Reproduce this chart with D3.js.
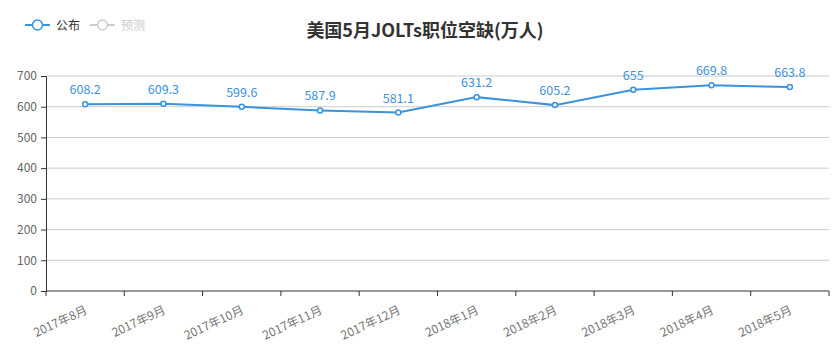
<!DOCTYPE html>
<html>
<head>
<meta charset="utf-8">
<script src="https://cdn.jsdelivr.net/npm/d3@7"></script>
<style>
  body { margin: 0; background: #fff; }
  text { font-family: "Noto Sans CJK SC", "Microsoft YaHei", sans-serif; }
</style>
</head>
<body>
<svg class="chart" width="839" height="362"></svg>
<script>
// data
var months = ["2017年8月", "2017年9月", "2017年10月", "2017年11月", "2017年12月",
  "2018年1月", "2018年2月", "2018年3月", "2018年4月", "2018年5月"];
var published = [608.2, 609.3, 599.6, 587.9, 581.1, 631.2, 605.2, 655, 669.8, 663.8];
var yTicks = [0, 100, 200, 300, 400, 500, 600, 700];
var legendNames = ["公布", "预测"];
var title = "美国5月JOLTs职位空缺(万人)";

var m = {top: 76, right: 10, bottom: 71, left: 46},
  w = 839 - m.left - m.right,
  h = 362 - m.top - m.bottom;
var blue = "#3a93dd";

var svg = d3.select(".chart");
var g = svg.append("g").attr("transform", "translate(" + m.left + "," + m.top + ")");

var x = d3.scaleBand().domain(months).range([0, w]);
var y = d3.scaleLinear().domain([0, 700]).range([h, 0]);

// grid
g.append("g").selectAll("line").data(yTicks.filter(function(d) { return d > 0; }))
  .enter().append("line")
  .attr("x1", 0).attr("x2", w)
  .attr("y1", function(d) { return y(d); }).attr("y2", function(d) { return y(d); })
  .attr("stroke", "#ccc");

// y axis
var ya = g.append("g").call(d3.axisLeft(y).tickValues(yTicks).tickSize(5).tickPadding(4));
ya.select(".domain").attr("stroke", "#333");
ya.selectAll(".tick line").attr("stroke", "#333");
ya.selectAll("text").attr("fill", "#666").style("font-size", "12px");

// x axis, ticks on band edges
var xa = g.append("g").attr("transform", "translate(0," + h + ")");
xa.append("line").attr("x1", 0).attr("x2", w).attr("stroke", "#333");
xa.selectAll(".edge").data(months.concat([null])).enter().append("line")
  .attr("class", "edge")
  .attr("x1", function(d, i) { return i * x.step(); })
  .attr("x2", function(d, i) { return i * x.step(); })
  .attr("y1", 0).attr("y2", 5).attr("stroke", "#333");
xa.selectAll(".lbl").data(months).enter().append("text")
  .attr("class", "lbl")
  .attr("text-anchor", "end")
  .attr("fill", "#777")
  .style("font-size", "12px")
  .attr("transform", function(d) {
    return "translate(" + (x(d) + x.bandwidth() / 2 + 3) + ",22) rotate(-25)";
  })
  .text(function(d) { return d; });

// line
var line = d3.line()
  .x(function(d, i) { return x(months[i]) + x.bandwidth() / 2; })
  .y(function(d) { return y(d); });
g.append("path").datum(published)
  .attr("d", line).attr("fill", "none")
  .attr("stroke", blue).attr("stroke-width", 2);

g.selectAll(".pt").data(published).enter().append("circle")
  .attr("class", "pt")
  .attr("cx", function(d, i) { return x(months[i]) + x.bandwidth() / 2; })
  .attr("cy", function(d) { return y(d); })
  .attr("r", 2.5).attr("fill", "#fff")
  .attr("stroke", blue).attr("stroke-width", 1.5);

g.selectAll(".val").data(published).enter().append("text")
  .attr("class", "val")
  .attr("x", function(d, i) { return x(months[i]) + x.bandwidth() / 2; })
  .attr("y", function(d) { return y(d) - 10; })
  .attr("text-anchor", "middle")
  .attr("fill", blue)
  .style("font-size", "12.5px")
  .text(function(d) { return d; });

// title
svg.append("text")
  .attr("x", 425).attr("y", 37)
  .attr("text-anchor", "middle")
  .attr("fill", "#333")
  .style("font-size", "18px")
  .style("font-weight", "bold")
  .text(title);

// legend
var legColors = [blue, "#ccc"];
var leg = svg.append("g").selectAll("g").data(legendNames).enter().append("g")
  .attr("transform", function(d, i) { return "translate(" + (25 + i * 65) + ",25)"; });
leg.append("line").attr("x1", 0).attr("x2", 25)
  .attr("stroke", function(d, i) { return legColors[i]; }).attr("stroke-width", 2);
leg.append("circle").attr("cx", 12.5).attr("r", 5).attr("fill", "#fff")
  .attr("stroke", function(d, i) { return legColors[i]; }).attr("stroke-width", 1.5);
leg.append("text").attr("x", 31).attr("y", 4.5)
  .attr("fill", function(d, i) { return i == 0 ? "#333" : "#ccc"; })
  .style("font-size", "12px")
  .text(function(d) { return d; });
</script>
</body>
</html>
